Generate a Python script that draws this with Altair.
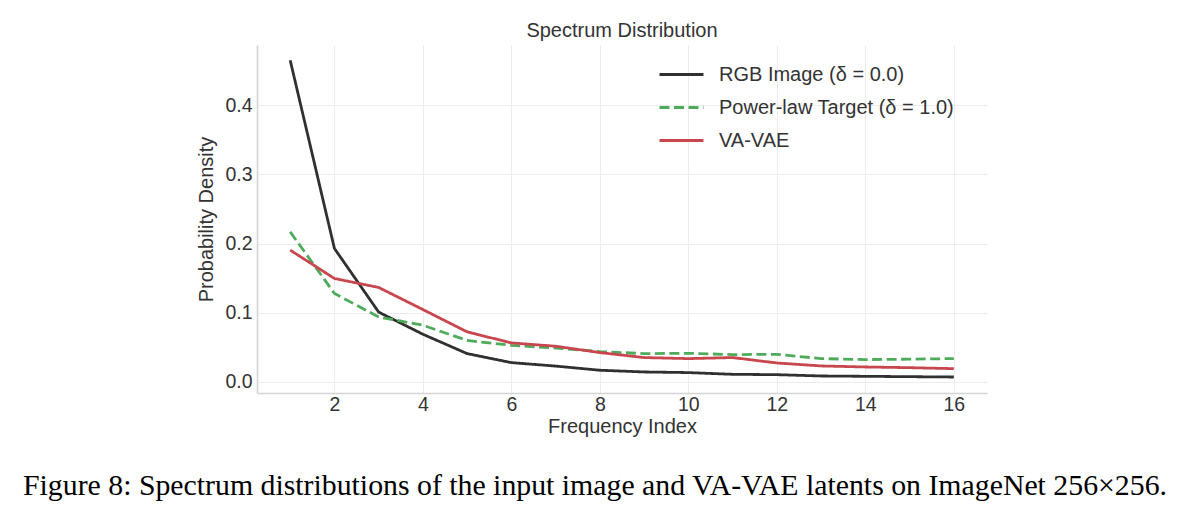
import altair as alt
import pandas as pd

# Frequency bins and normalised spectrum for each source
freq_index = list(range(1, 17))
rgb_image = [0.465, 0.193, 0.101, 0.069, 0.041, 0.028, 0.023, 0.017,
             0.0145, 0.0136, 0.0111, 0.0106, 0.0087, 0.0082, 0.0077, 0.0072]
power_law = [0.217, 0.128, 0.094, 0.082, 0.060, 0.053, 0.049, 0.0440,
             0.0410, 0.0415, 0.0396, 0.0400, 0.0338, 0.0324, 0.0330, 0.0338]
va_vae = [0.1906, 0.1496, 0.1366, 0.1047, 0.0724, 0.0565, 0.0517, 0.0425,
          0.0353, 0.0338, 0.0353, 0.0275, 0.0232, 0.0217, 0.0207, 0.0193]

series_names = ["RGB Image (δ = 0.0)", "Power-law Target (δ = 1.0)", "VA-VAE"]
series_colors = ["#303030", "#4fab5c", "#c8474e"]
series_dashes = [[1, 0], [10, 4.5], [1, 0]]

x_ticks = [2, 4, 6, 8, 10, 12, 14, 16]
y_ticks = [0.0, 0.1, 0.2, 0.3, 0.4]

caption = "Figure 8: Spectrum distributions of the input image and VA-VAE latents on ImageNet 256×256."

rows = []
for name, values in zip(series_names, [rgb_image, power_law, va_vae]):
    for f, v in zip(freq_index, values):
        rows.append({"freq": f, "density": v, "series": name})
df = pd.DataFrame(rows)

W, H = 730, 348
FONT = "Liberation Sans"
TXT = "#333333"


def series_legend():
    return alt.Legend(title=None, orient="none", legendX=413, legendY=18,
                      symbolType="M-2.2,0H2.2", symbolSize=400,
                      symbolStrokeWidth=3, labelOffset=26,
                      rowPadding=11, padding=0, labelLimit=500,
                      labelFontSize=20, labelFont=FONT, labelColor=TXT)


lines = alt.Chart(df).mark_line(strokeWidth=2.8, clip=True).encode(
    x=alt.X("freq:Q",
            scale=alt.Scale(domain=[0.25, 16.75], nice=False, zero=False),
            axis=alt.Axis(values=x_ticks, title="Frequency Index", format="d",
                          labelPadding=2, titlePadding=3)),
    y=alt.Y("density:Q",
            scale=alt.Scale(domain=[-0.0159, 0.487], nice=False, zero=False),
            axis=alt.Axis(values=y_ticks, title="Probability Density", format=".1f",
                          labelPadding=5, titlePadding=8)),
    color=alt.Color("series:N",
                    scale=alt.Scale(domain=series_names, range=series_colors),
                    sort=series_names, legend=series_legend()),
    strokeDash=alt.StrokeDash("series:N",
                              scale=alt.Scale(domain=series_names, range=series_dashes),
                              sort=series_names, legend=series_legend()),
)

caption_layer = alt.Chart(pd.DataFrame({"text": [caption]})).mark_text(
    font="Liberation Serif", fontSize=29.8, color="#000000",
    align="center", baseline="alphabetic",
).encode(
    x=alt.value(W / 2 - 27),
    y=alt.value(450),
    text="text:N",
)

chart = alt.layer(lines, caption_layer).properties(
    width=W,
    height=H,
    title=alt.Title("Spectrum Distribution", anchor="middle", fontSize=20, font=FONT,
                    fontWeight="normal", color=TXT, offset=-16, baseline="bottom",
                    frame="group"),
    autosize=alt.AutoSizeParams(type="none"),
    padding={"left": 257, "top": 45, "right": 199, "bottom": 136},
).configure_view(
    stroke=None,
).configure_axis(
    labelFont=FONT,
    labelFontSize=19.5,
    labelColor=TXT,
    titleFont=FONT,
    titleFontSize=20,
    titleColor=TXT,
    titleFontWeight="normal",
    grid=True,
    gridColor="#ececec",
    gridWidth=1,
    ticks=False,
    tickSize=0,
    domainColor="#d4d4d4",
    domainWidth=1.6,
)

chart.save("out.html", embed_options={"renderer": "svg", "actions": False})
